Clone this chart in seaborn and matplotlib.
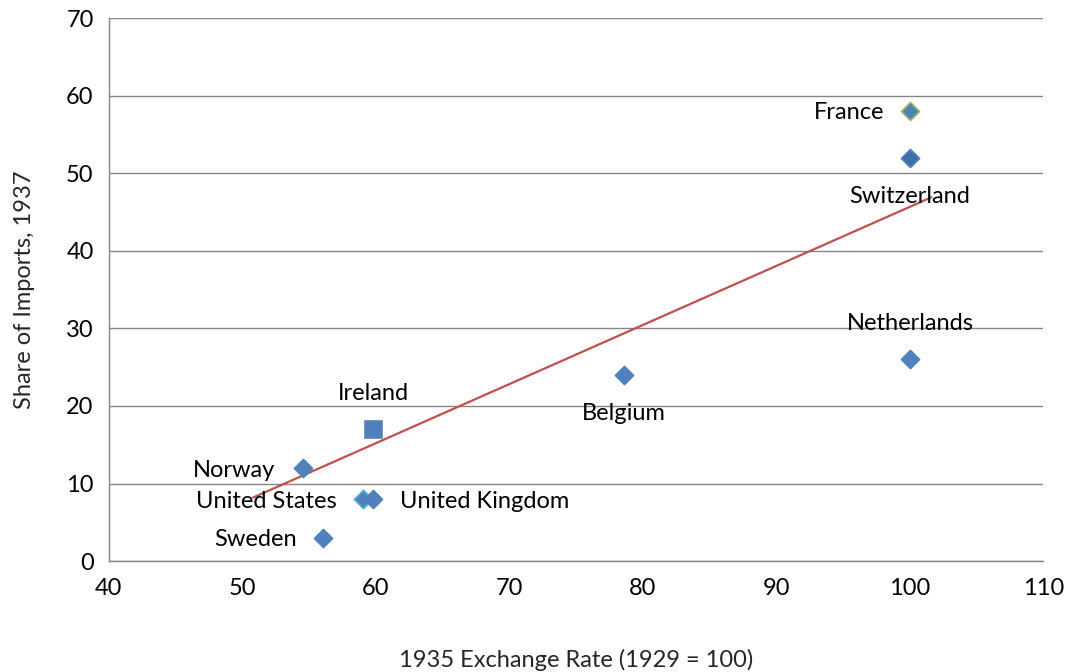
import pandas as pd
import matplotlib.pyplot as plt
import seaborn as sns

# data
countries = ['France', 'Switzerland', 'Netherlands', 'Belgium', 'Ireland',
             'Norway', 'United States', 'United Kingdom', 'Sweden']
exchange_rate = [100, 100, 100, 78.6, 59.8, 54.5, 59.0, 59.8, 56.0]
import_share = [58, 52, 26, 24, 17, 12, 8, 8, 3]
trend_x = [50.8, 101.6]
trend_y = [8.2, 46.9]

df = pd.DataFrame({'country': countries, 'rate': exchange_rate, 'share': import_share})

sns.set_style("white")
plt.rcParams['font.family'] = ['Lato', 'DejaVu Sans']
FS = 17

fig, ax = plt.subplots(figsize=(10.68, 6.72), dpi=100)
fig.subplots_adjust(left=0.102, right=0.977, top=0.973, bottom=0.165)

blue = '#4F81BD'
edges = {'France': '#9BBB59', 'United States': '#4BACC6', 'Ireland': '#7D8FB0'}
markers = {c: ('s' if c == 'Ireland' else 'D') for c in countries}
sizes = {c: (160 if c == 'Ireland' else 85) for c in countries}

for c in countries:
    sub = df[df['country'] == c]
    sns.scatterplot(
        ax=ax, data=sub, x='rate', y='share',
        marker=markers[c], s=sizes[c],
        color='#3F6EA8' if c == 'Switzerland' else blue,
        edgecolor=edges.get(c, blue),
        linewidth=0.6 if c == 'Ireland' else 1.2, zorder=4, legend=False
    )

sns.lineplot(ax=ax, x=trend_x, y=trend_y, color='#C0504D', linewidth=1.6, zorder=3)

# label offsets in pixels: (dx, dy, ha)
offsets = {
    'France': (-26, -1, 'right'),
    'Switzerland': (0, -39, 'center'),
    'Netherlands': (0, 36, 'center'),
    'Belgium': (0, -39, 'center'),
    'Ireland': (0, 36, 'center'),
    'Norway': (-27, -2, 'right'),
    'United States': (-26, -2, 'right'),
    'United Kingdom': (27, -2, 'left'),
    'Sweden': (-26, -2, 'right'),
}
for c, x, y in zip(countries, exchange_rate, import_share):
    dx, dy, ha = offsets[c]
    ax.annotate(c, (x, y), xytext=(dx, dy), textcoords='offset pixels',
                ha=ha, va='center', fontsize=FS, color='black', zorder=5)

ax.set_xlim(40, 110)
ax.set_ylim(0, 70)
ax.set_xticks(range(40, 111, 10))
ax.set_yticks(range(0, 71, 10))
ax.tick_params(axis='both', labelsize=FS, colors='black', length=6,
               direction='out', width=1)
ax.tick_params(axis='x', pad=6)
ax.tick_params(axis='y', pad=5)
ax.tick_params(axis='both', color='#868686')
ax.grid(True, axis='y', color='#868686', linewidth=1)
ax.set_axisbelow(True)
for side in ['top', 'right']:
    ax.spines[side].set_visible(False)
for side in ['left', 'bottom']:
    ax.spines[side].set_color('#868686')
    ax.spines[side].set_linewidth(1)

ax.set_xlabel('1935 Exchange Rate (1929 = 100)', fontsize=FS, labelpad=36)
ax.set_ylabel('Share of Imports, 1937', fontsize=FS, labelpad=22)

plt.savefig('out.png', dpi=100)
